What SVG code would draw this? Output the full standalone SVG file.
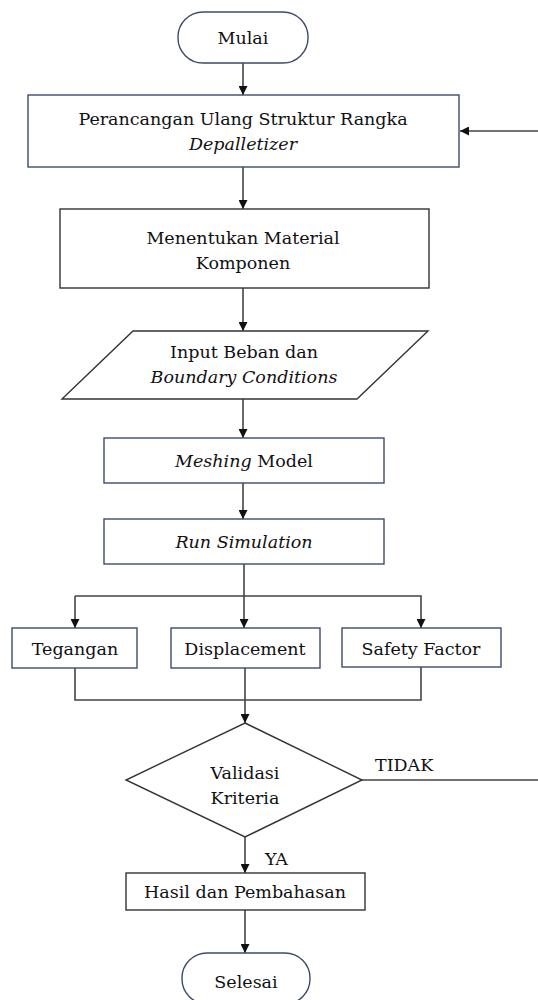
<svg xmlns="http://www.w3.org/2000/svg" width="538" height="1000" viewBox="0 0 538 1000">
<defs>
<marker id="ah" viewBox="0 0 10 10" refX="10" refY="5" markerWidth="9" markerHeight="9" markerUnits="userSpaceOnUse" orient="auto">
<path d="M0,0 L10,5 L0,10 z" fill="#111"/>
</marker>
</defs>
<style>
.bl{fill:#fff;stroke:#3d4a6a;stroke-width:1.4}
.bk{fill:#fff;stroke:#333;stroke-width:1.4}
.t{font-family:"DejaVu Serif","Liberation Serif",serif;font-size:17.5px;fill:#111;text-anchor:middle}
.s{text-anchor:start}
.i{font-style:italic}
.c{fill:none;stroke:#444;stroke-width:1.6}
.a{marker-end:url(#ah)}
</style>
<g id="connectors">
<path class="c a" d="M243,63 V95"/>
<path class="c a" d="M243,167 V209"/>
<path class="c a" d="M243,288 V331"/>
<path class="c a" d="M243,399 V438"/>
<path class="c a" d="M243,483 V519"/>
<path class="c a" d="M244,564 V628"/>
<path class="c a" d="M75,596 H421 V628"/>
<path class="c a" d="M75,596 V628"/>
<path class="c" d="M75,668 V700 H421 V667"/>
<path class="c a" d="M245,668 V723"/>
<path class="c a" d="M362,780 H541 V131 H460"/>
<path class="c a" d="M245,837 V873"/>
<path class="c a" d="M245,910 V953"/>
</g>
<g id="mulai">
<rect class="bl" x="178" y="12" width="130" height="51" rx="25"/>
<text class="t" x="243" y="44">Mulai</text>
</g>
<g id="perancangan">
<rect class="bl" x="28" y="95" width="431" height="72"/>
<text class="t" x="243" y="125">Perancangan Ulang Struktur Rangka</text>
<text class="t i" x="243" y="150">Depalletizer</text>
</g>
<g id="material">
<rect class="bk" x="60" y="209" width="369" height="79"/>
<text class="t" x="243" y="244">Menentukan Material</text>
<text class="t" x="243" y="269">Komponen</text>
</g>
<g id="input">
<polygon class="bk" points="133,331 428,331 357,399 62,399"/>
<text class="t" x="244" y="358">Input Beban dan</text>
<text class="t i" x="244" y="383">Boundary Conditions</text>
</g>
<g id="meshing">
<rect class="bl" x="104" y="438" width="280" height="45"/>
<text class="t" x="244" y="467"><tspan class="i">Meshing</tspan> Model</text>
</g>
<g id="run">
<rect class="bl" x="104" y="519" width="280" height="45"/>
<text class="t i" x="244" y="548">Run Simulation</text>
</g>
<g id="tegangan">
<rect class="bl" x="12" y="628" width="125" height="40"/>
<text class="t" x="75" y="655">Tegangan</text>
</g>
<g id="displacement">
<rect class="bl" x="171" y="628" width="149" height="40"/>
<text class="t" x="245" y="655">Displacement</text>
</g>
<g id="safety">
<rect class="bl" x="342" y="628" width="159" height="39"/>
<text class="t" x="421" y="655">Safety Factor</text>
</g>
<g id="validasi">
<polygon class="bk" points="245,723 362,780 245,837 126,780"/>
<text class="t" x="245" y="779">Validasi</text>
<text class="t" x="245" y="804">Kriteria</text>
</g>
<text class="t s" x="375" y="771">TIDAK</text>
<text class="t s" x="265" y="865">YA</text>
<g id="hasil">
<rect class="bk" x="126" y="873" width="239" height="37"/>
<text class="t" x="245" y="898">Hasil dan Pembahasan</text>
</g>
<g id="selesai">
<rect class="bl" x="182" y="953" width="128" height="51" rx="25"/>
<text class="t" x="246" y="988">Selesai</text>
</g>
</svg>
